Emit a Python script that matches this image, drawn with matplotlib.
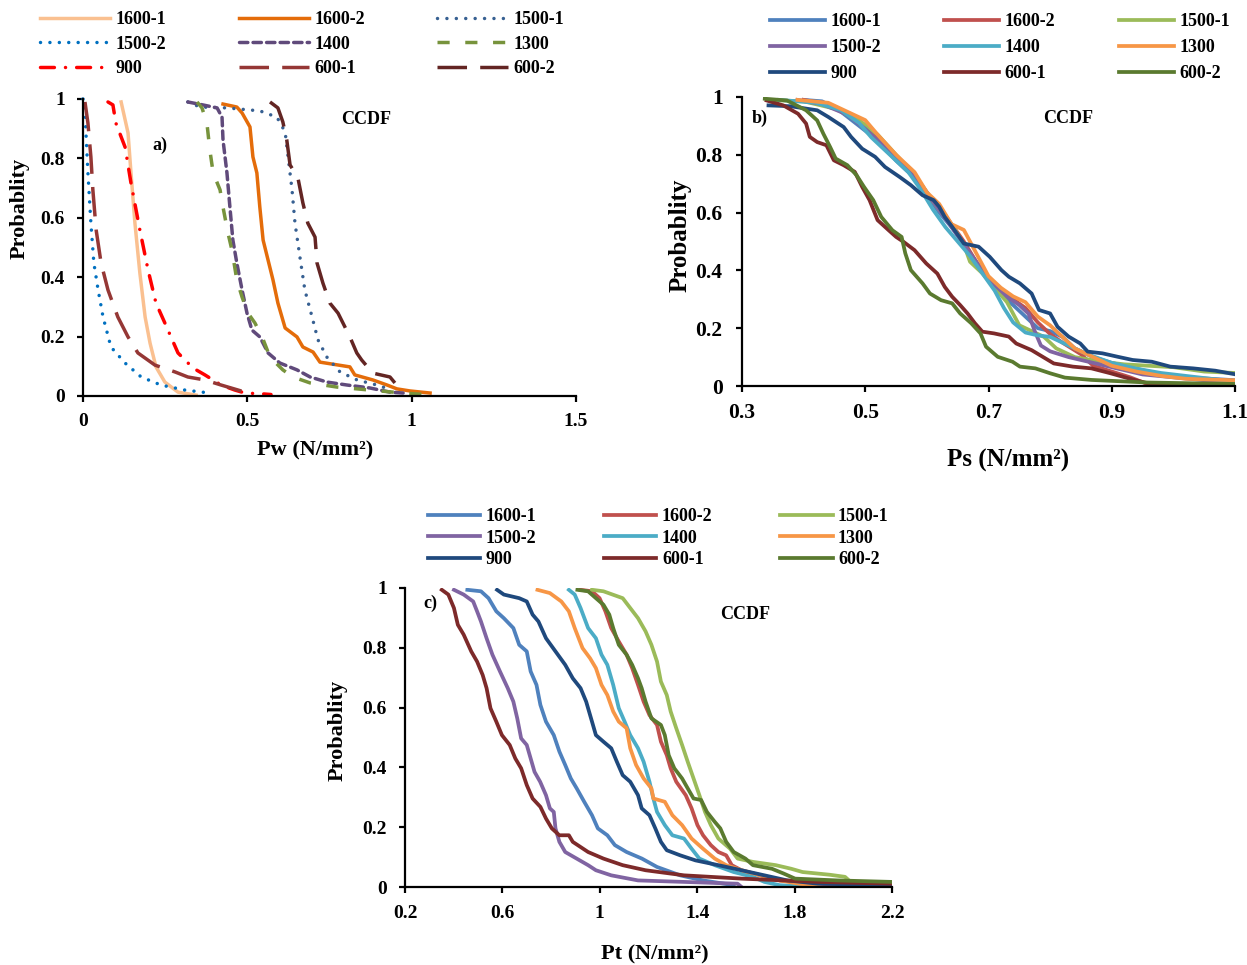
import matplotlib
matplotlib.use("Agg")
import matplotlib.pyplot as plt
from matplotlib.ticker import FuncFormatter

plt.rcParams['font.family'] = ['Liberation Serif', 'DejaVu Serif']
plt.rcParams['font.weight'] = 'bold'

names = ['1600-1', '1600-2', '1500-1', '1500-2', '1400', '1300', '900', '600-1', '600-2']

# ---------------- panel a : Pw ----------------
pw_1600_1_x = [0.116, 0.137, 0.146, 0.158, 0.173, 0.189, 0.204, 0.222, 0.249, 0.289, 0.344]
pw_1600_1_p = [0.99, 0.886, 0.751, 0.582, 0.414, 0.266, 0.178, 0.098, 0.047, 0.013, 0.003]
pw_1600_2_x = [0.426, 0.468, 0.484, 0.508, 0.517, 0.529, 0.538, 0.548, 0.563, 0.578, 0.593, 0.615,
               0.651, 0.669, 0.700, 0.721, 0.812, 0.827, 0.882, 0.925, 0.955, 0.995, 1.056]
pw_1600_2_p = [0.983, 0.973, 0.953, 0.906, 0.805, 0.751, 0.636, 0.525, 0.458, 0.391, 0.313, 0.229,
               0.199, 0.165, 0.148, 0.114, 0.098, 0.071, 0.054, 0.037, 0.024, 0.017, 0.010]
pw_1500_1_x = [0.319, 0.356, 0.438, 0.538, 0.590, 0.615, 0.624, 0.636, 0.645, 0.660, 0.675, 0.697,
               0.715, 0.742, 0.782, 0.834, 0.894, 0.94]
pw_1500_1_p = [0.99, 0.973, 0.970, 0.960, 0.939, 0.889, 0.805, 0.694, 0.582, 0.468, 0.357, 0.266,
               0.189, 0.131, 0.081, 0.054, 0.037, 0.02]
pw_1500_2_x = [0.0, 0.006, 0.009, 0.015, 0.024, 0.033, 0.046, 0.061, 0.085, 0.128, 0.177, 0.237, 0.310, 0.386]
pw_1500_2_p = [1.0, 0.987, 0.885, 0.751, 0.582, 0.448, 0.357, 0.266, 0.165, 0.111, 0.064, 0.037, 0.020, 0.010]
pw_1400_x = [0.319, 0.365, 0.408, 0.423, 0.426, 0.438, 0.447, 0.456, 0.468, 0.484, 0.499, 0.514, 0.538,
             0.563, 0.599, 0.651, 0.691, 0.742, 0.803, 0.873, 0.934, 0.974]
pw_1400_p = [0.99, 0.98, 0.970, 0.939, 0.862, 0.751, 0.636, 0.525, 0.448, 0.357, 0.279, 0.222, 0.199,
             0.145, 0.111, 0.088, 0.064, 0.047, 0.037, 0.027, 0.013, 0.010]
pw_1300_x = [0.347, 0.362, 0.377, 0.386, 0.396, 0.417, 0.426, 0.441, 0.453, 0.468, 0.484, 0.502, 0.523,
             0.545, 0.569, 0.608, 0.639, 0.691, 0.773, 0.873, 0.974, 1.065]
pw_1300_p = [0.99, 0.970, 0.919, 0.828, 0.751, 0.694, 0.636, 0.549, 0.492, 0.391, 0.333, 0.279, 0.246,
             0.199, 0.131, 0.088, 0.064, 0.044, 0.030, 0.020, 0.010, 0.003]
pw_900_x = [0.076, 0.091, 0.100, 0.128, 0.146, 0.173, 0.198, 0.222, 0.249, 0.289, 0.335, 0.371, 0.420,
            0.462, 0.493, 0.548, 0.572]
pw_900_p = [0.99, 0.98, 0.919, 0.838, 0.717, 0.559, 0.424, 0.313, 0.246, 0.145, 0.094, 0.071, 0.037,
            0.020, 0.010, 0.007, 0.005]
pw_600_1_x = [0.006, 0.015, 0.024, 0.030, 0.040, 0.055, 0.076, 0.106, 0.137, 0.167, 0.219, 0.280, 0.319,
              0.371, 0.420, 0.472, 0.502]
pw_600_1_p = [0.99, 0.919, 0.805, 0.694, 0.559, 0.448, 0.357, 0.266, 0.199, 0.145, 0.104, 0.081, 0.064,
              0.054, 0.037, 0.020, 0.010]
pw_600_2_x = [0.569, 0.593, 0.608, 0.620, 0.630, 0.654, 0.669, 0.684, 0.706, 0.712, 0.730, 0.751, 0.776,
              0.812, 0.833, 0.848, 0.882, 0.934, 0.949]
pw_600_2_p = [0.99, 0.970, 0.923, 0.862, 0.778, 0.734, 0.650, 0.582, 0.535, 0.448, 0.380, 0.313, 0.279,
              0.199, 0.145, 0.121, 0.077, 0.064, 0.044]

# ---------------- panel b : Ps ----------------
ps_1600_1_x = [0.40, 0.43, 0.46, 0.49, 0.52, 0.55, 0.58, 0.60, 0.62, 0.64, 0.66, 0.68, 0.70, 0.72, 0.74,
               0.76, 0.78, 0.80, 0.82, 0.84, 0.87, 0.90, 0.94, 0.98, 1.02, 1.06, 1.10]
ps_1600_1_p = [0.99, 0.985, 0.95, 0.90, 0.85, 0.78, 0.72, 0.66, 0.60, 0.55, 0.49, 0.43, 0.37, 0.32, 0.28,
               0.24, 0.20, 0.19, 0.17, 0.13, 0.10, 0.08, 0.06, 0.04, 0.03, 0.025, 0.02]
ps_1600_2_x = [0.40, 0.44, 0.47, 0.50, 0.53, 0.56, 0.59, 0.60, 0.62, 0.64, 0.66, 0.68, 0.70, 0.72, 0.74,
               0.76, 0.78, 0.80, 0.82, 0.85, 0.87, 0.90, 0.93, 0.96, 1.10]
ps_1600_2_p = [0.99, 0.975, 0.945, 0.90, 0.84, 0.77, 0.70, 0.66, 0.62, 0.56, 0.50, 0.43, 0.37, 0.33, 0.30,
               0.27, 0.22, 0.18, 0.15, 0.11, 0.07, 0.05, 0.03, 0.005, 0.0]
ps_1500_1_x = [0.34, 0.40, 0.45, 0.49, 0.52, 0.55, 0.58, 0.60, 0.62, 0.64, 0.66, 0.67, 0.69, 0.71, 0.73,
               0.75, 0.77, 0.79, 0.81, 0.84, 0.88, 0.92, 0.96, 1.00, 1.05, 1.10]
ps_1500_1_p = [0.99, 0.985, 0.96, 0.92, 0.87, 0.80, 0.73, 0.67, 0.61, 0.56, 0.49, 0.43, 0.39, 0.34, 0.29,
               0.21, 0.19, 0.17, 0.13, 0.10, 0.085, 0.075, 0.07, 0.065, 0.05, 0.045]
ps_1500_2_x = [0.39, 0.43, 0.47, 0.50, 0.53, 0.56, 0.59, 0.61, 0.63, 0.65, 0.67, 0.69, 0.71, 0.73, 0.75,
               0.765, 0.775, 0.785, 0.80, 0.83, 0.87, 0.91, 0.95, 1.00, 1.05, 1.10]
ps_1500_2_p = [0.99, 0.975, 0.94, 0.89, 0.83, 0.77, 0.70, 0.64, 0.58, 0.52, 0.46, 0.40, 0.35, 0.31, 0.28,
               0.25, 0.19, 0.14, 0.12, 0.10, 0.08, 0.06, 0.04, 0.03, 0.02, 0.012]
ps_1400_x = [0.36, 0.42, 0.46, 0.49, 0.51, 0.54, 0.57, 0.59, 0.61, 0.63, 0.65, 0.67, 0.69, 0.71, 0.725,
             0.74, 0.76, 0.78, 0.80, 0.83, 0.86, 0.90, 0.94, 0.98, 1.02, 1.06, 1.10]
ps_1400_p = [0.99, 0.98, 0.955, 0.91, 0.86, 0.80, 0.74, 0.68, 0.61, 0.55, 0.50, 0.45, 0.39, 0.33, 0.27,
             0.22, 0.185, 0.175, 0.17, 0.14, 0.11, 0.08, 0.06, 0.045, 0.035, 0.025, 0.015]
ps_1300_x = [0.39, 0.44, 0.47, 0.50, 0.52, 0.55, 0.58, 0.60, 0.62, 0.64, 0.66, 0.68, 0.70, 0.72, 0.74,
             0.76, 0.78, 0.80, 0.82, 0.84, 0.87, 0.90, 0.94, 0.98, 1.02, 1.06, 1.10]
ps_1300_p = [0.99, 0.98, 0.95, 0.92, 0.87, 0.80, 0.74, 0.67, 0.63, 0.56, 0.54, 0.46, 0.38, 0.34, 0.31,
             0.29, 0.24, 0.21, 0.17, 0.13, 0.10, 0.07, 0.05, 0.035, 0.025, 0.022, 0.02]
ps_900_x = [0.343, 0.379, 0.422, 0.440, 0.465, 0.477, 0.495, 0.516, 0.532, 0.556, 0.574, 0.593, 0.611,
            0.620, 0.629, 0.641, 0.660, 0.684, 0.702, 0.721, 0.733, 0.751, 0.770, 0.782, 0.800, 0.812,
            0.830, 0.849, 0.861, 0.885, 0.910, 0.934, 0.965, 0.995, 1.032, 1.068, 1.099]
ps_900_p = [0.971, 0.968, 0.954, 0.931, 0.896, 0.862, 0.821, 0.793, 0.758, 0.723, 0.695, 0.660, 0.643,
            0.620, 0.585, 0.551, 0.493, 0.482, 0.447, 0.401, 0.378, 0.355, 0.320, 0.263, 0.251, 0.205,
            0.171, 0.147, 0.119, 0.113, 0.101, 0.090, 0.084, 0.067, 0.061, 0.053, 0.041]
ps_600_1_x = [0.340, 0.367, 0.391, 0.404, 0.410, 0.422, 0.437, 0.449, 0.465, 0.483, 0.495, 0.507, 0.520,
              0.538, 0.550, 0.562, 0.580, 0.599, 0.617, 0.629, 0.641, 0.654, 0.666, 0.678, 0.690, 0.709,
              0.733, 0.745, 0.770, 0.788, 0.806, 0.837, 0.867, 0.898, 0.928, 0.959, 1.099]
ps_600_1_p = [0.988, 0.971, 0.942, 0.908, 0.862, 0.844, 0.833, 0.781, 0.764, 0.741, 0.689, 0.643, 0.574,
              0.539, 0.516, 0.499, 0.470, 0.424, 0.389, 0.343, 0.309, 0.280, 0.251, 0.217, 0.188, 0.182,
              0.171, 0.147, 0.124, 0.101, 0.078, 0.067, 0.061, 0.044, 0.026, 0.009, 0.003]
ps_600_2_x = [0.337, 0.373, 0.404, 0.422, 0.432, 0.443, 0.452, 0.471, 0.486, 0.498, 0.513, 0.526, 0.544,
              0.559, 0.565, 0.574, 0.593, 0.605, 0.623, 0.641, 0.654, 0.672, 0.687, 0.696, 0.715, 0.739,
              0.751, 0.776, 0.800, 0.824, 0.867, 0.959, 1.099]
ps_600_2_p = [0.994, 0.988, 0.954, 0.919, 0.873, 0.827, 0.787, 0.764, 0.729, 0.689, 0.643, 0.585, 0.539,
              0.516, 0.459, 0.401, 0.355, 0.320, 0.297, 0.286, 0.251, 0.217, 0.182, 0.136, 0.101, 0.084,
              0.067, 0.061, 0.044, 0.029, 0.021, 0.012, 0.007]

# ---------------- panel c : Pt ----------------
pt_1600_1_x = [0.456, 0.512, 0.543, 0.575, 0.606, 0.645, 0.669, 0.700, 0.716, 0.740, 0.756, 0.779, 0.811,
               0.834, 0.858, 0.881, 0.905, 0.936, 0.968, 0.992, 1.031, 1.062, 1.110, 1.173, 1.235, 1.330,
               1.424, 1.550]
pt_1600_1_p = [0.994, 0.989, 0.966, 0.922, 0.899, 0.866, 0.810, 0.788, 0.721, 0.676, 0.609, 0.553, 0.508,
               0.453, 0.408, 0.363, 0.330, 0.285, 0.240, 0.196, 0.173, 0.140, 0.117, 0.095, 0.067, 0.039,
               0.022, 0.006]
pt_1600_2_x = [0.921, 0.968, 0.999, 1.023, 1.047, 1.078, 1.110, 1.133, 1.157, 1.180, 1.204, 1.235, 1.251,
               1.275, 1.291, 1.314, 1.353, 1.377, 1.401, 1.424, 1.456, 1.487, 1.519, 1.542, 1.582, 1.660,
               1.739, 1.896, 2.085]
pt_1600_2_p = [0.994, 0.989, 0.966, 0.922, 0.866, 0.821, 0.777, 0.732, 0.676, 0.620, 0.575, 0.542, 0.486,
               0.441, 0.397, 0.352, 0.307, 0.263, 0.207, 0.173, 0.140, 0.117, 0.106, 0.073, 0.056, 0.039,
               0.022, 0.011, 0.0]
pt_1500_1_x = [0.968, 1.015, 1.094, 1.125, 1.157, 1.188, 1.212, 1.235, 1.251, 1.275, 1.291, 1.314, 1.338,
               1.361, 1.385, 1.409, 1.432, 1.456, 1.487, 1.535, 1.566, 1.629, 1.723, 1.786, 1.833, 1.944,
               2.007, 2.030, 2.132, 2.2]
pt_1500_1_p = [0.994, 0.989, 0.966, 0.933, 0.899, 0.855, 0.810, 0.754, 0.687, 0.642, 0.587, 0.531, 0.475,
               0.419, 0.363, 0.307, 0.251, 0.207, 0.162, 0.128, 0.095, 0.084, 0.073, 0.061, 0.050, 0.041,
               0.034, 0.017, 0.006, 0.0]
pt_1500_2_x = [0.401, 0.441, 0.480, 0.496, 0.512, 0.535, 0.559, 0.590, 0.622, 0.645, 0.661, 0.677, 0.700,
               0.716, 0.732, 0.755, 0.779, 0.795, 0.811, 0.818, 0.834, 0.858, 0.905, 0.952, 0.984, 1.047,
               1.157, 1.346, 1.566, 1.582]
pt_1500_2_p = [0.994, 0.978, 0.955, 0.922, 0.888, 0.832, 0.777, 0.721, 0.665, 0.620, 0.564, 0.497, 0.475,
               0.430, 0.385, 0.352, 0.307, 0.263, 0.251, 0.196, 0.151, 0.117, 0.095, 0.073, 0.056, 0.039,
               0.022, 0.017, 0.011, 0.0]
pt_1400_x = [0.873, 0.897, 0.921, 0.952, 0.984, 1.007, 1.031, 1.055, 1.078, 1.102, 1.125, 1.157, 1.180,
             1.204, 1.220, 1.235, 1.267, 1.298, 1.346, 1.377, 1.409, 1.472, 1.550, 1.629, 1.676, 1.739,
             1.881]
pt_1400_p = [0.994, 0.978, 0.933, 0.866, 0.832, 0.777, 0.743, 0.676, 0.598, 0.553, 0.508, 0.464, 0.419,
             0.352, 0.296, 0.251, 0.207, 0.173, 0.162, 0.128, 0.095, 0.073, 0.050, 0.034, 0.017, 0.006,
             0.0]
pt_1300_x = [0.744, 0.795, 0.842, 0.873, 0.897, 0.929, 0.960, 0.984, 1.007, 1.031, 1.055, 1.078, 1.110,
             1.125, 1.149, 1.180, 1.212, 1.220, 1.267, 1.298, 1.338, 1.377, 1.424, 1.472, 1.519, 1.582,
             1.660, 1.739, 1.818, 1.896]
pt_1300_p = [0.994, 0.983, 0.955, 0.922, 0.866, 0.799, 0.765, 0.732, 0.676, 0.642, 0.587, 0.553, 0.531,
             0.464, 0.408, 0.363, 0.330, 0.296, 0.285, 0.240, 0.207, 0.162, 0.128, 0.095, 0.073, 0.056,
             0.039, 0.022, 0.011, 0.003]
pt_900_x = [0.578, 0.606, 0.669, 0.700, 0.724, 0.748, 0.779, 0.818, 0.858, 0.889, 0.921, 0.944, 0.968,
            0.984, 1.015, 1.047, 1.070, 1.094, 1.125, 1.157, 1.172, 1.204, 1.228, 1.251, 1.275, 1.330,
            1.393, 1.487, 1.582, 1.676, 1.770, 1.896, 2.2]
pt_900_p = [0.994, 0.978, 0.966, 0.955, 0.911, 0.888, 0.832, 0.788, 0.743, 0.698, 0.665, 0.620, 0.553,
            0.508, 0.486, 0.464, 0.419, 0.374, 0.352, 0.307, 0.263, 0.240, 0.196, 0.151, 0.123, 0.106,
            0.089, 0.073, 0.056, 0.039, 0.022, 0.011, 0.006]
pt_600_1_x = [0.351, 0.378, 0.401, 0.417, 0.441, 0.472, 0.496, 0.519, 0.535, 0.551, 0.575, 0.598, 0.630,
              0.653, 0.677, 0.700, 0.724, 0.756, 0.779, 0.803, 0.834, 0.873, 0.889, 0.952, 1.015, 1.094,
              1.188, 1.346, 1.582, 1.896, 2.2]
pt_600_1_p = [0.994, 0.978, 0.933, 0.877, 0.844, 0.788, 0.754, 0.709, 0.665, 0.598, 0.553, 0.508, 0.475,
              0.430, 0.397, 0.341, 0.296, 0.268, 0.229, 0.196, 0.173, 0.173, 0.151, 0.117, 0.095, 0.073,
              0.056, 0.039, 0.028, 0.017, 0.011]
pt_600_2_x = [0.908, 0.952, 0.984, 1.015, 1.039, 1.055, 1.078, 1.110, 1.133, 1.157, 1.172, 1.188, 1.212,
              1.251, 1.267, 1.283, 1.306, 1.338, 1.361, 1.385, 1.416, 1.440, 1.472, 1.495, 1.519, 1.550,
              1.598, 1.629, 1.707, 1.755, 1.802, 1.975, 2.2]
pt_600_2_p = [0.994, 0.989, 0.966, 0.944, 0.911, 0.866, 0.810, 0.777, 0.743, 0.698, 0.665, 0.620, 0.564,
              0.542, 0.508, 0.441, 0.397, 0.363, 0.330, 0.296, 0.291, 0.251, 0.218, 0.196, 0.151, 0.117,
              0.095, 0.073, 0.061, 0.045, 0.028, 0.022, 0.017]

# styles (panel a uses Excel-like dash patterns)
colors_a = ['#FAC090', '#E46C0A', '#376092', '#0070C0', '#604A7B', '#77933C', '#FF0000', '#953735', '#632523']
styles_a = ['-', '-', (0, (0.01, 2.7)), (0, (0.01, 2.7)), (0, (2.4, 1.5)), (0, (3.5, 4.5)),
            (0, (4.0, 3.2, 0.01, 3.2)), (0, (8.5, 3.8)), (0, (8.5, 3.8))]
caps_a = ['butt', 'butt', 'round', 'round', 'round', 'butt', 'round', 'butt', 'butt']
colors_bc = ['#4F81BD', '#C0504D', '#9BBB59', '#8064A2', '#4BACC6', '#F79646', '#1F497D', '#7D2A2A', '#5A7A2F']

LW_A = 2.5
LW = 2.7
fmt = FuncFormatter(lambda v, pos: f"{v:g}")

fig = plt.figure(figsize=(12.47, 9.65), dpi=100)


def style_axes(ax, xlim, xticks, tick_fs, lab_fs, xlab, xlab_xy, ylab_xy, pad_x, pad_y):
    ax.set_xlim(*xlim)
    ax.set_ylim(0, 1)
    ax.set_xticks(xticks)
    ax.set_yticks([0, 0.2, 0.4, 0.6, 0.8, 1])
    ax.xaxis.set_major_formatter(fmt)
    ax.yaxis.set_major_formatter(fmt)
    for s in ['top', 'right']:
        ax.spines[s].set_visible(False)
    for s in ['left', 'bottom']:
        ax.spines[s].set_linewidth(1.6)
    ax.tick_params(axis='x', direction='out', length=4, width=1.6, labelsize=tick_fs, pad=pad_x)
    ax.tick_params(axis='y', direction='out', length=4, width=1.6, labelsize=tick_fs, pad=pad_y)
    ax.set_xlabel(xlab, fontsize=lab_fs, fontweight='bold')
    ax.set_ylabel('Probablity', fontsize=lab_fs, fontweight='bold')
    ax.xaxis.label.set_va('center')
    ax.yaxis.label.set_va('center')
    ax.xaxis.set_label_coords(*xlab_xy)
    ax.yaxis.set_label_coords(*ylab_xy)


def row_legend(handles, anchor, fs, hlen, cspace, lspace):
    # legend is read row by row, matplotlib fills columns first
    order = [0, 3, 6, 1, 4, 7, 2, 5, 8]
    hs = [handles[i] for i in order]
    fig.legend(handles=hs, labels=[h.get_label() for h in hs], ncol=3, loc='upper left',
               bbox_to_anchor=anchor, frameon=False, prop={'size': fs, 'weight': 'bold'},
               handlelength=hlen, handletextpad=0.3, columnspacing=cspace,
               labelspacing=lspace, borderpad=0, borderaxespad=0)


# panel a
ax1 = fig.add_axes([83 / 1247, 1 - 396 / 965, 493 / 1247, 297 / 965])
pw_x = [pw_1600_1_x, pw_1600_2_x, pw_1500_1_x, pw_1500_2_x, pw_1400_x, pw_1300_x, pw_900_x, pw_600_1_x, pw_600_2_x]
pw_p = [pw_1600_1_p, pw_1600_2_p, pw_1500_1_p, pw_1500_2_p, pw_1400_p, pw_1300_p, pw_900_p, pw_600_1_p, pw_600_2_p]
ha = []
for i in range(9):
    ln, = ax1.plot(pw_x[i], pw_p[i], color=colors_a[i], lw=LW_A, linestyle=styles_a[i],
                   dash_capstyle=caps_a[i], label=names[i], clip_on=False)
    ha.append(ln)
style_axes(ax1, (0, 1.5), [0, 0.5, 1, 1.5], 14, 16, 'Pw (N/mm²)', (0.47, -0.182), (-0.128, 0.63), 8, 9)
ax1.text(0.86, 0.93, 'CCDF', fontsize=13, fontweight='bold', ha='center', va='center')
ax1.text(0.234, 0.845, 'a)', fontsize=13, fontweight='bold', ha='center', va='center')
row_legend(ha, (40 / 1247, 1 - 11 / 965), 13, 3.9, 4.0, 0.42)

# panel b
ax2 = fig.add_axes([742 / 1247, 1 - 386 / 965, 493 / 1247, 289 / 965])
ps_x = [ps_1600_1_x, ps_1600_2_x, ps_1500_1_x, ps_1500_2_x, ps_1400_x, ps_1300_x, ps_900_x, ps_600_1_x, ps_600_2_x]
ps_p = [ps_1600_1_p, ps_1600_2_p, ps_1500_1_p, ps_1500_2_p, ps_1400_p, ps_1300_p, ps_900_p, ps_600_1_p, ps_600_2_p]
hb = []
for i in range(9):
    ln, = ax2.plot(ps_x[i], ps_p[i], color=colors_bc[i], lw=LW, label=names[i])
    hb.append(ln)
style_axes(ax2, (0.3, 1.1), [0.3, 0.5, 0.7, 0.9, 1.1], 15.5, 18, 'Ps (N/mm²)', (0.54, -0.256), (-0.126, 0.52), 8, 10)
ax2.text(0.83, 0.927, 'CCDF', fontsize=13, fontweight='bold', ha='center', va='center')
ax2.text(0.328, 0.927, 'b)', fontsize=13, fontweight='bold', ha='center', va='center')
row_legend(hb, (770 / 1247, 1 - 13 / 965), 13, 3.05, 3.5, 0.5)

# panel c
ax3 = fig.add_axes([405 / 1247, 1 - 887 / 965, 487 / 1247, 299 / 965])
pt_x = [pt_1600_1_x, pt_1600_2_x, pt_1500_1_x, pt_1500_2_x, pt_1400_x, pt_1300_x, pt_900_x, pt_600_1_x, pt_600_2_x]
pt_p = [pt_1600_1_p, pt_1600_2_p, pt_1500_1_p, pt_1500_2_p, pt_1400_p, pt_1300_p, pt_900_p, pt_600_1_p, pt_600_2_p]
hc = []
for i in range(9):
    ln, = ax3.plot(pt_x[i], pt_p[i], color=colors_bc[i], lw=LW, label=names[i])
    hc.append(ln)
style_axes(ax3, (0.2, 2.2), [0.2, 0.6, 1, 1.4, 1.8, 2.2], 14, 16, 'Pt (N/mm²)', (0.513, -0.227), (-0.138, 0.525), 9, 9)
ax3.text(1.596, 0.913, 'CCDF', fontsize=13, fontweight='bold', ha='center', va='center')
ax3.text(0.303, 0.95, 'c)', fontsize=13, fontweight='bold', ha='center', va='center')
row_legend(hc, (428 / 1247, 1 - 508 / 965), 13, 2.9, 3.75, 0.25)

fig.savefig('out.png', dpi=100)
